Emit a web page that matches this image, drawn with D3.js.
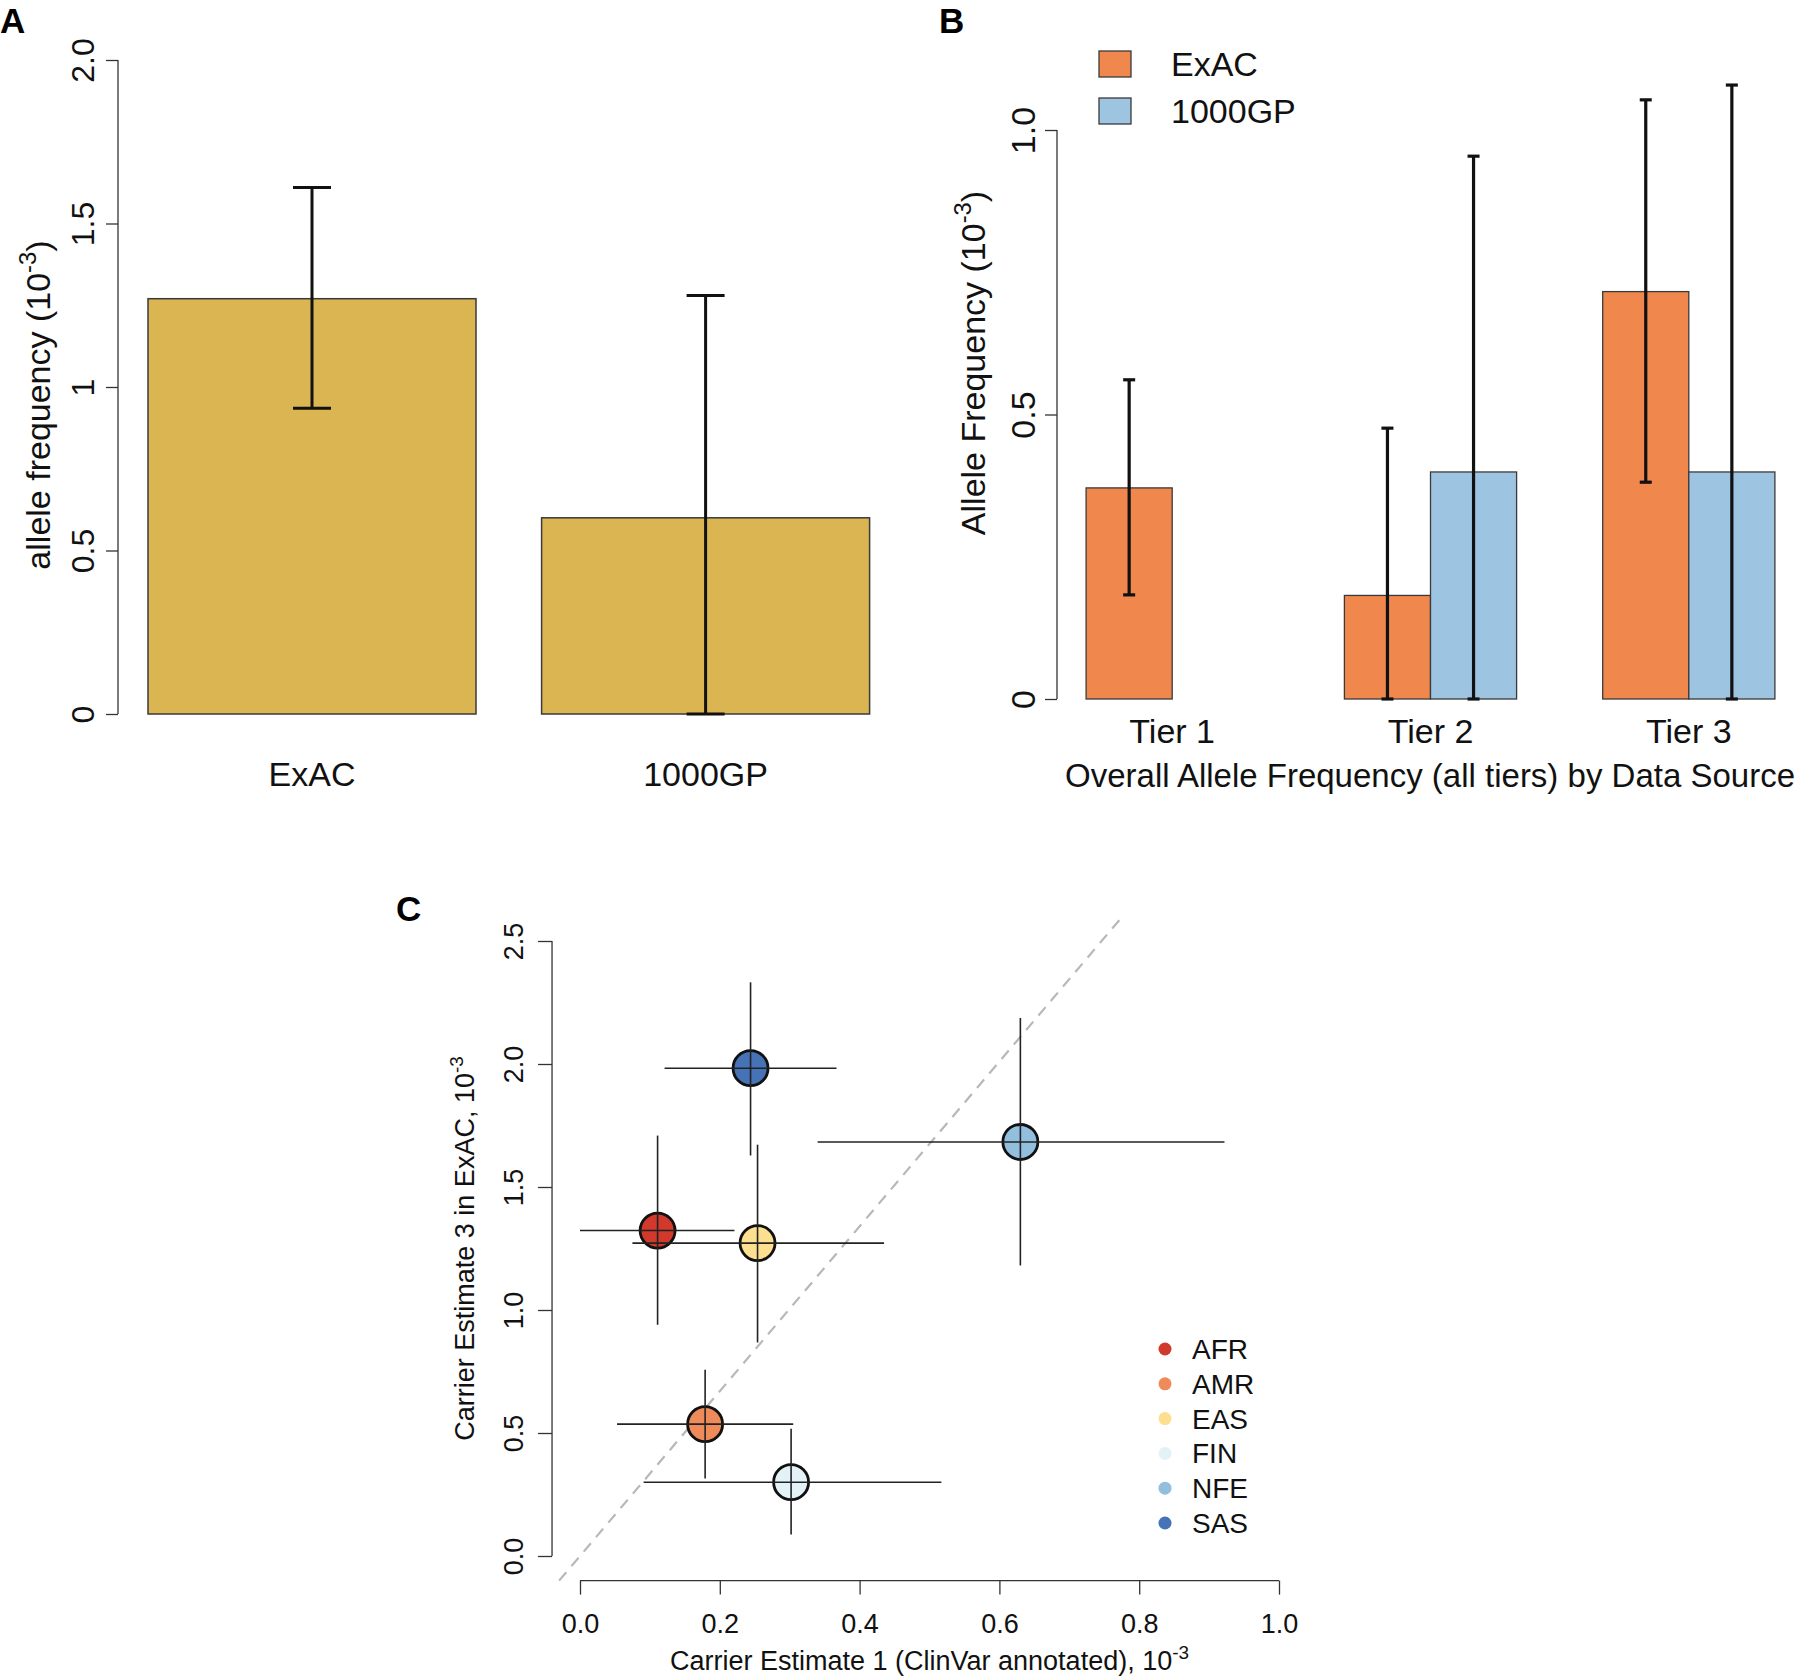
<!DOCTYPE html>
<html><head><meta charset="utf-8">
<script src="https://cdn.jsdelivr.net/npm/d3@7"></script>
<style>html,body{margin:0;padding:0;background:#fff;}svg{display:block;font-family:"Liberation Sans",Arial,sans-serif;}</style>
</head><body>
<svg id="c" width="1800" height="1678"></svg>
<script>
// ---------- Panel A data ----------
const aCategories = ["ExAC", "1000GP"];
const aValues = [1.27, 0.60];
const aLower = [0.935, 0.0];
const aUpper = [1.61, 1.28];
const aTicks = [0, 0.5, 1, 1.5, 2];
const aTickLabels = ["0", "0.5", "1", "1.5", "2.0"];

// ---------- Panel B data ----------
const bTiers = ["Tier 1", "Tier 2", "Tier 3"];
const bSeries = ["ExAC", "1000GP"];
const bExAC = [0.371, 0.182, 0.716];
const b1000GP = [0.0, 0.399, 0.399];
const bExACLower = [0.183, 0.0, 0.381];
const bExACUpper = [0.561, 0.476, 1.053];
const b1000GPLower = [null, 0.0, 0.0];
const b1000GPUpper = [null, 0.954, 1.079];
const bTicks = [0, 0.5, 1.0];
const bTickLabels = ["0", "0.5", "1.0"];

// ---------- Panel C data ----------
const cPops = ["AFR", "AMR", "EAS", "FIN", "NFE", "SAS"];
const cX = [0.111, 0.179, 0.254, 0.302, 0.630, 0.244];
const cY = [1.323, 0.536, 1.272, 0.300, 1.683, 1.983];
const cXLow = [0.000, 0.053, 0.075, 0.091, 0.340, 0.121];
const cXHigh = [0.221, 0.305, 0.435, 0.517, 0.922, 0.367];
const cYLow = [0.940, 0.315, 0.868, 0.087, 1.181, 1.628];
const cYHigh = [1.709, 0.757, 1.672, 0.517, 2.187, 2.332];
const cColors = ["#d0392c", "#ef8a5b", "#fde08f", "#e2f2f7", "#93bfdf", "#4573b6"];
const cXTicks = [0, 0.2, 0.4, 0.6, 0.8, 1.0];
const cXTickLabels = ["0.0", "0.2", "0.4", "0.6", "0.8", "1.0"];
const cYTicks = [0, 0.5, 1.0, 1.5, 2.0, 2.5];
const cYTickLabels = ["0.0", "0.5", "1.0", "1.5", "2.0", "2.5"];
const cRefSlope = 3.35;

const svg = d3.select("#c");
const FONT = 34;

function supLabel(sel, main, sup, tail, fs) {
  sel.append("tspan").text(main);
  sel.append("tspan").attr("dy", -fs * 0.42).attr("font-size", fs * 0.7).text(sup);
  sel.append("tspan").attr("dy", fs * 0.42).text(tail);
}

// ================= Panel A =================
{
  const g = svg.append("g");
  const y = d3.scaleLinear().domain([0, 2]).range([714, 60]);
  const x = d3.scaleLinear().domain([0, 2.6]).range([82.4, 82.4 + 2.6 * 328]);
  const left = i => 0.2 + i * 1.2;

  g.selectAll("rect.bar").data(aValues).join("rect")
    .attr("x", (d, i) => x(left(i))).attr("width", (d, i) => x(left(i) + 1) - x(left(i)))
    .attr("y", d => y(d)).attr("height", d => y(0) - y(d))
    .attr("fill", "#dcb553").attr("stroke", "#3a3a3a").attr("stroke-width", 1.5);

  const cap = 19;
  aValues.forEach((d, i) => {
    const cx = x(left(i) + 0.5);
    g.append("line").attr("x1", cx).attr("x2", cx).attr("y1", y(aLower[i])).attr("y2", y(aUpper[i]))
      .attr("stroke", "#111").attr("stroke-width", 3);
    [aLower[i], aUpper[i]].forEach(v => g.append("line").attr("x1", cx - cap).attr("x2", cx + cap)
      .attr("y1", y(v)).attr("y2", y(v)).attr("stroke", "#111").attr("stroke-width", 3));
    g.append("text").attr("x", cx).attr("y", 786).attr("text-anchor", "middle")
      .attr("font-size", FONT).attr("fill", "#111").text(aCategories[i]);
  });

  const ax = g.append("g").attr("transform", "translate(118,0)")
    .call(d3.axisLeft(y).tickValues(aTicks).tickSize(12).tickFormat((d, i) => aTickLabels[i]));
  ax.select(".domain").attr("d", `M0,${y(0)}V${y(2)}`).attr("stroke", "#333").attr("stroke-width", 1.3);
  ax.selectAll(".tick line").attr("stroke", "#333").attr("stroke-width", 1.3);
  ax.selectAll(".tick text").attr("font-size", 32).attr("fill", "#111")
    .attr("x", null).attr("dy", null).attr("text-anchor", "middle")
    .attr("transform", "translate(-24,0) rotate(-90)").attr("y", 0);

  const t = g.append("text").attr("transform", "translate(50,405) rotate(-90)")
    .attr("text-anchor", "middle").attr("font-size", FONT).attr("fill", "#111");
  supLabel(t, "allele frequency (10", "-3", ")", FONT);

  g.append("text").attr("x", 0).attr("y", 33).attr("font-size", 35).attr("font-weight", "bold").text("A");
}

// ================= Panel B =================
{
  const g = svg.append("g");
  const y = d3.scaleLinear().domain([0, 1]).range([699, 130]);
  const x = d3.scaleLinear().domain([0, 10]).range([1000, 1000 + 10 * 86.1]);
  const colors = ["#f0874c", "#9dc4e1"];
  const vals = [bExAC, b1000GP];
  const lows = [bExACLower, b1000GPLower];
  const highs = [bExACUpper, b1000GPUpper];
  const left = (gi, s) => 1 + gi * 3 + s;

  bTiers.forEach((tier, gi) => {
    bSeries.forEach((ser, s) => {
      const v = vals[s][gi];
      g.append("rect").attr("x", x(left(gi, s))).attr("width", x(left(gi, s) + 1) - x(left(gi, s)))
        .attr("y", y(v)).attr("height", y(0) - y(v))
        .attr("fill", colors[s]).attr("stroke", "#3a3a3a").attr("stroke-width", 1.3);
    });
  });
  bTiers.forEach((tier, gi) => {
    bSeries.forEach((ser, s) => {
      const lo = lows[s][gi], hi = highs[s][gi];
      if (lo === null) return;
      const cx = x(left(gi, s) + 0.5);
      g.append("line").attr("x1", cx).attr("x2", cx).attr("y1", y(lo)).attr("y2", y(hi))
        .attr("stroke", "#111").attr("stroke-width", 3.2);
      [lo, hi].forEach(v => g.append("line").attr("x1", cx - 6).attr("x2", cx + 6)
        .attr("y1", y(v)).attr("y2", y(v)).attr("stroke", "#111").attr("stroke-width", 3.2));
    });
    g.append("text").attr("x", x(left(gi, 0) + 1)).attr("y", 743).attr("text-anchor", "middle")
      .attr("font-size", FONT).attr("fill", "#111").text(tier);
  });

  const ax = g.append("g").attr("transform", "translate(1057,0)")
    .call(d3.axisLeft(y).tickValues(bTicks).tickSize(12).tickFormat((d, i) => bTickLabels[i]));
  ax.select(".domain").attr("d", `M0,${y(0)}V${y(1)}`).attr("stroke", "#333").attr("stroke-width", 1.3);
  ax.selectAll(".tick line").attr("stroke", "#333").attr("stroke-width", 1.3);
  ax.selectAll(".tick text").attr("font-size", FONT).attr("fill", "#111")
    .attr("x", null).attr("dy", null).attr("text-anchor", "middle")
    .attr("transform", "translate(-22,0) rotate(-90)").attr("y", 0);

  const t = g.append("text").attr("transform", "translate(985,363) rotate(-90)")
    .attr("text-anchor", "middle").attr("font-size", FONT).attr("fill", "#111");
  supLabel(t, "Allele Frequency (10", "-3", ")", FONT);

  g.append("text").attr("x", 1430).attr("y", 787).attr("text-anchor", "middle")
    .attr("font-size", 33).attr("fill", "#111").text("Overall Allele Frequency (all tiers) by Data Source");

  // legend
  bSeries.forEach((ser, s) => {
    const cy = [64, 111][s];
    g.append("rect").attr("x", 1099).attr("y", cy - 13).attr("width", 32).attr("height", 26)
      .attr("fill", colors[s]).attr("stroke", "#3a3a3a").attr("stroke-width", 1.3);
    g.append("text").attr("x", 1171).attr("y", cy + 12).attr("font-size", FONT).attr("fill", "#111").text(ser);
  });

  g.append("text").attr("x", 939).attr("y", 33).attr("font-size", 35).attr("font-weight", "bold").text("B");
}

// ================= Panel C =================
{
  const g = svg.append("g");
  const x = d3.scaleLinear().domain([-0.04, 1.04]).range([580 - 0.04 * 699, 580 + 1.04 * 699]);
  const y = d3.scaleLinear().domain([-0.1, 2.6]).range([1556 + 0.1 * 246, 1556 - 2.6 * 246]);
  const CF = 27;

  // reference dashed line, clipped to plot region
  const yMin = -0.1, yMax = 2.6;
  g.append("line").attr("x1", x(yMin / cRefSlope)).attr("y1", y(yMin))
    .attr("x2", x(yMax / cRefSlope)).attr("y2", y(yMax))
    .attr("stroke", "#b8b8b8").attr("stroke-width", 2.2).attr("stroke-dasharray", "11,8");

  const idx = d3.range(cPops.length);
  g.selectAll("circle.pt").data(idx).join("circle")
    .attr("cx", i => x(cX[i])).attr("cy", i => y(cY[i])).attr("r", 17.5)
    .attr("fill", i => cColors[i]).attr("stroke", "#111").attr("stroke-width", 2.8);
  idx.forEach(i => {
    g.append("line").attr("x1", x(cXLow[i])).attr("x2", x(cXHigh[i])).attr("y1", y(cY[i])).attr("y2", y(cY[i]))
      .attr("stroke", "#222").attr("stroke-width", 1.6);
    g.append("line").attr("x1", x(cX[i])).attr("x2", x(cX[i])).attr("y1", y(cYLow[i])).attr("y2", y(cYHigh[i]))
      .attr("stroke", "#222").attr("stroke-width", 1.6);
  });

  const ay = g.append("g").attr("transform", `translate(${x(-0.04)},0)`)
    .call(d3.axisLeft(y).tickValues(cYTicks).tickSize(14).tickFormat((d, i) => cYTickLabels[i]));
  ay.select(".domain").attr("d", `M0,${y(0)}V${y(2.5)}`).attr("stroke", "#333").attr("stroke-width", 1.3);
  ay.selectAll(".tick line").attr("stroke", "#333").attr("stroke-width", 1.3);
  ay.selectAll(".tick text").attr("font-size", CF).attr("fill", "#111")
    .attr("x", null).attr("dy", null).attr("text-anchor", "middle")
    .attr("transform", "translate(-29,0) rotate(-90)").attr("y", 0);

  const axx = g.append("g").attr("transform", `translate(0,${y(-0.1)})`)
    .call(d3.axisBottom(x).tickValues(cXTicks).tickSize(14).tickFormat((d, i) => cXTickLabels[i]));
  axx.select(".domain").attr("d", `M${x(0)},0H${x(1)}`).attr("stroke", "#333").attr("stroke-width", 1.3);
  axx.selectAll(".tick line").attr("stroke", "#333").attr("stroke-width", 1.3);
  axx.selectAll(".tick text").attr("font-size", CF).attr("fill", "#111").attr("dy", null).attr("y", 1633 - y(-0.1));

  const ty = g.append("text").attr("transform", `translate(474,${y(1.25)}) rotate(-90)`)
    .attr("text-anchor", "middle").attr("font-size", CF).attr("fill", "#111");
  supLabel(ty, "Carrier Estimate 3 in ExAC, 10", "-3", "", CF);
  const tx = g.append("text").attr("x", x(0.5)).attr("y", 1670)
    .attr("text-anchor", "middle").attr("font-size", CF).attr("fill", "#111");
  supLabel(tx, "Carrier Estimate 1 (ClinVar annotated), 10", "-3", "", CF);

  // legend
  const legY = d3.scaleLinear().domain([0, 5]).range([1349, 1523]);
  idx.forEach(i => {
    g.append("circle").attr("cx", 1165).attr("cy", legY(i)).attr("r", 6.5).attr("fill", cColors[i]);
    g.append("text").attr("x", 1192).attr("y", legY(i) + 10).attr("font-size", 28).attr("fill", "#111").text(cPops[i]);
  });

  g.append("text").attr("x", 396).attr("y", 921).attr("font-size", 35).attr("font-weight", "bold").text("C");
}
</script>
</body></html>
